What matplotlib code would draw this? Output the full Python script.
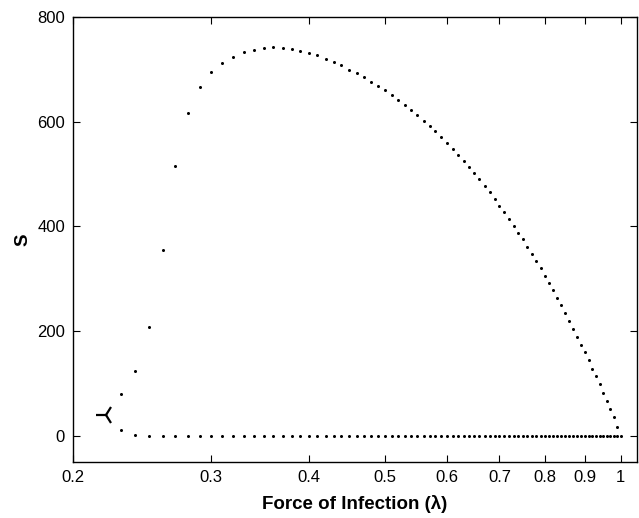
#!/usr/bin/env python

import matplotlib
matplotlib.use('Agg')
import matplotlib.pyplot as plt

# ----------------
# DATA
# ----------------

# force of infection, upper (endemic) branch
lam_upper = [0.23, 0.24, 0.25, 0.26, 0.27, 0.28, 0.29, 0.30, 0.31, 0.32,
             0.33, 0.34, 0.35, 0.36, 0.37, 0.38, 0.39, 0.40, 0.41, 0.42,
             0.43, 0.44, 0.45, 0.46, 0.47, 0.48, 0.49, 0.50, 0.51, 0.52,
             0.53, 0.54, 0.55, 0.56, 0.57, 0.58, 0.59, 0.60, 0.61, 0.62,
             0.63, 0.64, 0.65, 0.66, 0.67, 0.68, 0.69, 0.70, 0.71, 0.72,
             0.73, 0.74, 0.75, 0.76, 0.77, 0.78, 0.79, 0.80, 0.81, 0.82,
             0.83, 0.84, 0.85, 0.86, 0.87, 0.88, 0.89, 0.90, 0.91, 0.92,
             0.93, 0.94, 0.95, 0.96, 0.97, 0.98, 0.99]
s_upper = [79, 124, 207, 355, 515, 616, 667, 696, 713, 724,
           733, 738, 742, 743, 741, 739, 736, 732, 727, 721,
           715, 708, 700, 693, 685, 677, 669, 660, 651, 642,
           632, 623, 613, 601, 592, 582, 571, 560, 548, 537,
           525, 514, 502, 490, 478, 465, 453, 440, 428, 414,
           401, 388, 375, 361, 348, 334, 320, 306, 292, 278,
           263, 249, 234, 219, 204, 189, 174, 159, 144, 128,
           113, 98, 82, 67, 51, 35, 17]

# lower branch
lam_lower = lam_upper + [1.00]
s_lower = [11, 2] + [0] * (len(lam_lower) - 2)

# turning point
lam_turn = [0.22]
s_turn = [39]

xticks = [0.2, 0.3, 0.4, 0.5, 0.6, 0.7, 0.8, 0.9, 1.0]
xticklabels = ['0.2', '0.3', '0.4', '0.5', '0.6', '0.7', '0.8', '0.9', '1']
yticks = [0, 200, 400, 600, 800]

# ----------------
# PLOT
# ----------------

plt.rcParams['font.family'] = ['Liberation Sans', 'DejaVu Sans']

fig = plt.figure(figsize=(6.39, 5.18), dpi=100)
ax = fig.add_axes([0.1147, 0.1087, 0.8817, 0.8579])

ax.plot(lam_upper, s_upper, 'o', color='black', markersize=2.2, markeredgewidth=0)
ax.plot(lam_lower, s_lower, 'o', color='black', markersize=2.2, markeredgewidth=0)
ax.plot(lam_turn, s_turn, '3', color='black', markersize=14, markeredgewidth=1.6)

ax.set_xscale('log')
ax.set_xlim(0.2, 1.048)
ax.set_ylim(-50, 800)
ax.set_xticks(xticks)
ax.set_xticklabels(xticklabels)
ax.xaxis.set_minor_locator(matplotlib.ticker.NullLocator())
ax.set_yticks(yticks)

ax.tick_params(direction='in', top=True, right=True, length=5, width=0.8,
               labelsize=12, pad=6)
for sp in ax.spines.values():
    sp.set_linewidth(1.0)

ax.set_xlabel('Force of Infection (λ)', fontsize=13.5, fontweight='bold', labelpad=7)
ax.set_ylabel('S', fontsize=13.5, fontweight='bold', labelpad=4)

plt.savefig('out.png', dpi=100)
plt.close(fig)
